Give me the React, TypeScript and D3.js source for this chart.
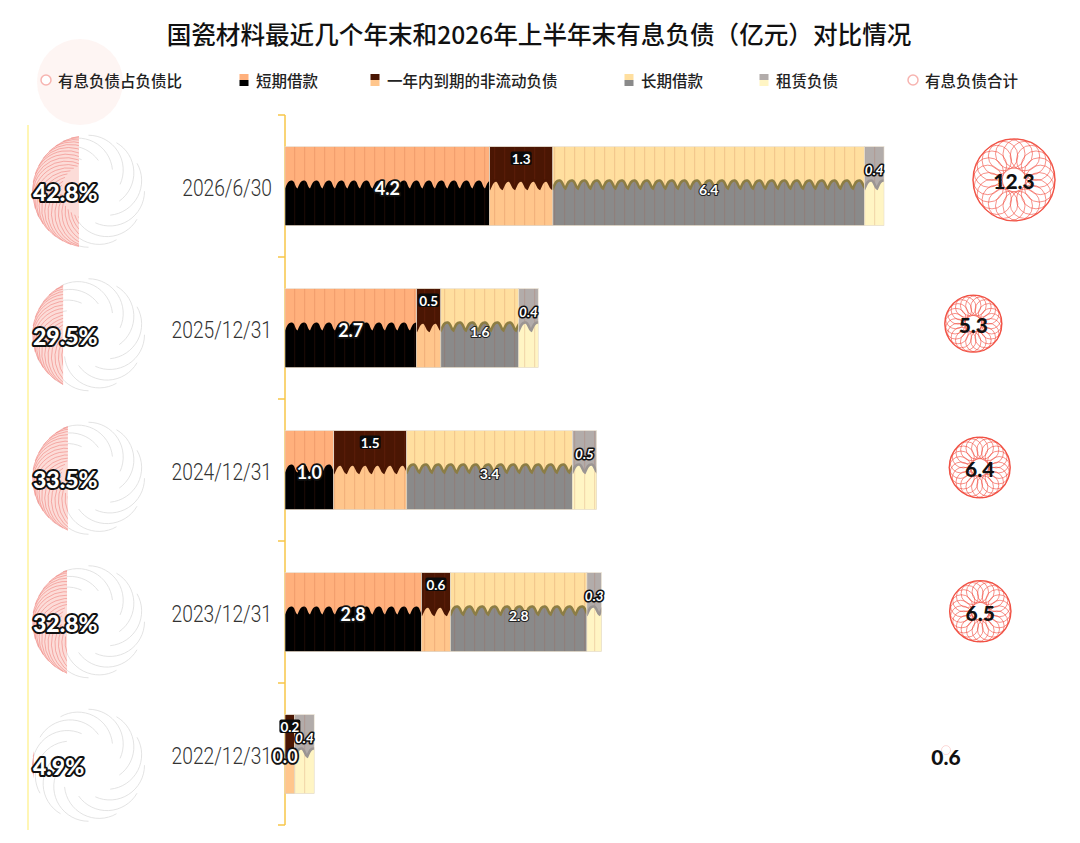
import * as d3 from 'd3'

const categories = ['2026/6/30', '2025/12/31', '2024/12/31', '2023/12/31', '2022/12/31']
const shortTermLoans = [4.2, 2.7, 1.0, 2.8, 0.0]
const currentPortion = [1.3, 0.5, 1.5, 0.6, 0.2]
const longTermLoans: (number | null)[] = [6.4, 1.6, 3.4, 2.8, null]
const leaseLiabilities = [0.4, 0.4, 0.5, 0.3, 0.4]
const totalDebt = [12.3, 5.3, 6.4, 6.5, 0.6]
const debtRatio = [42.8, 29.5, 33.5, 32.8, 4.9]

const title = '国瓷材料最近几个年末和2026年上半年末有息负债（亿元）对比情况'

type LabelKind = 'outline' | 'box' | 'thin' | 'italic'

const series: {
  name: string
  values: (number | null)[]
  top: string
  bottom: string
  wave: string
  label: LabelKind
}[] = [
  { name: '短期借款', values: shortTermLoans, top: '#ffb07c', bottom: '#000000', wave: '#000000', label: 'outline' },
  { name: '一年内到期的非流动负债', values: currentPortion, top: '#4a1603', bottom: '#ffc68c', wave: '#4a1603', label: 'box' },
  { name: '长期借款', values: longTermLoans, top: '#ffdf9f', bottom: '#8a8a8a', wave: '#8c7d44', label: 'thin' },
  { name: '租赁负债', values: leaseLiabilities, top: '#b2acaa', bottom: '#fff5c4', wave: '#9b9593', label: 'italic' },
]

const W = 1080
const H = 843
const LABEL_FONT = 'Lato, "DejaVu Sans", sans-serif'
const CJK_FONT = '"Noto Sans CJK SC", "Noto Sans", sans-serif'

// wave boundary between the two halves of every bar segment
function waveLine(x0: number, x1: number, mid: number) {
  const period = 12.5
  const p = d3.path()
  let a = x0 - period
  p.moveTo(a, mid + 2.5)
  while (a < x1 + period) {
    p.bezierCurveTo(a + 2, mid - 2, a + 3, mid - 6, a + 7, mid - 5.5)
    p.bezierCurveTo(a + 10, mid - 5, a + 10, mid + 1, a + period, mid + 2.5)
    a += period
  }
  return { d: p.toString(), end: a }
}

function swirl(cx: number, cy: number, R: number, n: number, ratio: number, sweep: number) {
  const rr = R * ratio
  const out: string[] = []
  for (let i = 0; i < n; i++) {
    const phi = (i / n) * Math.PI * 2
    const ox = cx + (R - rr) * Math.cos(phi)
    const oy = cy + (R - rr) * Math.sin(phi)
    const p = d3.path()
    p.arc(ox, oy, rr, phi, phi + sweep)
    out.push(p.toString())
  }
  return out
}

function spiro(cx: number, cy: number, R: number) {
  const n = 22
  const r = R * 0.36
  return d3.range(n).map((i) => {
    const phi = (i / n) * Math.PI * 2
    return { cx: cx + (R - r) * Math.cos(phi), cy: cy + (R - r) * Math.sin(phi), r }
  })
}

export default function App() {
  const y = d3.scaleBand<string>().domain(categories).range([115, 825]).paddingInner(0.444).paddingOuter(0.222)
  const x = d3.scaleLinear().domain([0, 12.3]).range([285, 884])

  const yLeft = d3.scaleBand<string>().domain(categories).range([119.5, 837])
  const xLeft = d3.scaleLinear().domain([0, 100]).range([28, 147])

  const yRight = d3.scaleBand<string>().domain(categories).range([108, 827])
  const xRight = d3.scaleLinear().domain([0.6, 12.3]).range([946, 1014])
  const size = d3.scaleLinear().domain([0.6, 5.3, 12.3]).range([9, 57, 82])

  const legendItems = [
    { name: '有息负债占负债比', kind: 'circle', x: 46 },
    { name: series[0].name, kind: 'rect', x: 244, s: series[0] },
    { name: series[1].name, kind: 'rect', x: 375, s: series[1] },
    { name: series[2].name, kind: 'rect', x: 629, s: series[2] },
    { name: series[3].name, kind: 'rect', x: 764, s: series[3] },
    { name: '有息负债合计', kind: 'circle', x: 913 },
  ]

  return (
    <svg
      width={W}
      height={H}
      viewBox={`0 0 ${W} ${H}`}
      style={{ position: 'absolute', left: 0, top: 0, background: '#ffffff' }}
    >
      <defs>
        <pattern id="stripes" width="10" height="10" patternUnits="userSpaceOnUse">
          <rect x="4" y="0" width="1.2" height="10" fill="rgba(170,60,30,0.14)" />
        </pattern>
      </defs>

      <text x={539} y={44} textAnchor="middle" fontSize={24.6} fontWeight={500} fill="#111" fontFamily={CJK_FONT}>
        {title}
      </text>

      {/* legend */}
      <circle cx={80} cy={82} r={43} fill="#f36b5b" opacity={0.07} />
      {legendItems.map((item) => (
        <g key={item.name}>
          {item.kind === 'circle' ? (
            <circle cx={item.x} cy={80} r={5} fill="#fff" stroke="#f7b4b0" strokeWidth={1.5} />
          ) : (
            <g>
              <rect x={item.x - 4.5} y={74} width={9} height={6} fill={item.s!.top} />
              <rect x={item.x - 4.5} y={80} width={9} height={6} fill={item.s!.bottom} />
            </g>
          )}
          <text
            x={item.x + 12}
            y={80}
            dominantBaseline="central"
            fontSize={15.5}
            fontWeight={500}
            fill="#222"
            fontFamily={CJK_FONT}
          >
            {item.name}
          </text>
        </g>
      ))}

      {/* left ratio circles */}
      <line x1={28} x2={28} y1={125} y2={830} stroke="#fff39c" strokeWidth={1.5} />
      {categories.map((c, i) => {
        const cy = yLeft(c)! + yLeft.bandwidth() / 2
        const cx = 88.5
        const R = 56
        const clipX = xLeft(debtRatio[i])
        return (
          <g key={c}>
            <clipPath id={`ratio-${i}`}>
              <rect x={0} y={cy - R - 2} width={clipX} height={2 * R + 4} />
            </clipPath>
            {swirl(cx, cy, R, 12, 0.62, 2.0).map((d, k) => (
              <path key={k} d={d} fill="none" stroke="#dcdcdc" strokeWidth={0.8} />
            ))}
            <g clipPath={`url(#ratio-${i})`}>
              <circle cx={cx} cy={cy} r={R} fill="#fcdcd8" />
              {swirl(cx, cy, R, 40, 0.6, 2.2).map((d, k) => (
                <path key={k} d={d} fill="none" stroke="#f08580" strokeWidth={0.6} />
              ))}
            </g>
            <text
              x={33}
              y={cy + 1}
              dominantBaseline="central"
              fontSize={23}
              fontWeight={900}
              fill="#fff"
              stroke="#111"
              strokeWidth={4}
              paintOrder="stroke"
              strokeLinejoin="round"
              fontFamily={LABEL_FONT}
            >
              {debtRatio[i].toFixed(1)}%
            </text>
          </g>
        )
      })}

      {/* category axis */}
      <line x1={285} x2={285} y1={115} y2={825} stroke="#f7c648" strokeWidth={1.5} />
      {d3.range(categories.length + 1).map((k) => {
        const ty = 115 + y.step() * k
        return <line key={k} x1={278} x2={285} y1={ty} y2={ty} stroke="#f7c648" strokeWidth={1.5} />
      })}
      {categories.map((c) => (
        <g key={c} transform={`translate(272,${y(c)! + y.bandwidth() / 2 + 2}) scale(0.8,1)`}>
          <text
            x={0}
            y={0}
            textAnchor="end"
            dominantBaseline="central"
            fontSize={24}
            fontWeight={300}
            fill="#333"
            fontFamily='Roboto, "DejaVu Sans Condensed", sans-serif'
          >
            {c}
          </text>
        </g>
      ))}

      {/* stacked bars */}
      {categories.map((c, i) => {
        const by = y(c)!
        const bh = y.bandwidth()
        const mid = by + bh / 2
        let acc = 0
        return (
          <g key={c}>
            {series.map((s, j) => {
              const v = s.values[i]
              const start = acc
              acc += v ?? 0
              if (v == null) return null
              const x0 = x(start)
              const x1 = x(start + v)
              const w = x1 - x0
              if (w <= 0) return null
              const wave = waveLine(x0, x1, mid)
              const fillPath = `${wave.d}L${wave.end},${by + bh + 2}L${x0 - 13},${by + bh + 2}Z`
              return (
                <g key={s.name}>
                  <clipPath id={`seg-${i}-${j}`}>
                    <rect x={x0} y={by} width={w} height={bh} />
                  </clipPath>
                  <g clipPath={`url(#seg-${i}-${j})`}>
                    <rect x={x0} y={by} width={w} height={bh} fill={s.top} />
                    <path d={fillPath} fill={s.bottom} />
                    <rect x={x0} y={by} width={w} height={bh} fill="url(#stripes)" />
                    {j > 0 && <path d={wave.d} fill="none" stroke={s.wave} strokeWidth={2.6} />}
                  </g>
                  <rect x={x0} y={by} width={w} height={bh} fill="none" stroke="#e6dccb" strokeWidth={0.6} />
                </g>
              )
            })}
          </g>
        )
      })}

      {/* bar labels */}
      {categories.map((c, i) => {
        const by = y(c)!
        const bh = y.bandwidth()
        const mid = by + bh / 2
        let acc = 0
        return (
          <g key={c}>
            {series.map((s) => {
              const v = s.values[i]
              const start = acc
              acc += v ?? 0
              if (v == null) return null
              const cx = (x(start) + x(start + v)) / 2
              const txt = v.toFixed(1)
              if (s.label === 'outline') {
                return (
                  <text
                    key={s.name}
                    x={cx}
                    y={mid + 2}
                    textAnchor="middle"
                    dominantBaseline="central"
                    fontSize={18}
                    fontWeight={700}
                    fill="#fff"
                    stroke="#111"
                    strokeWidth={3.6}
                    paintOrder="stroke"
                    strokeLinejoin="round"
                    fontFamily={LABEL_FONT}
                  >
                    {txt}
                  </text>
                )
              }
              if (s.label === 'box') {
                return (
                  <g key={s.name}>
                    <rect x={cx - 10.5} y={by + 5} width={21} height={13.5} rx={2} fill="#0b0b0b" />
                    <text
                      x={cx}
                      y={by + 12}
                      textAnchor="middle"
                      dominantBaseline="central"
                      fontSize={13.5}
                      fontWeight={700}
                      fill="#fff"
                      fontFamily={LABEL_FONT}
                    >
                      {txt}
                    </text>
                  </g>
                )
              }
              if (s.label === 'thin') {
                return (
                  <text
                    key={s.name}
                    x={cx}
                    y={mid + 3}
                    textAnchor="middle"
                    dominantBaseline="central"
                    fontSize={14}
                    fontWeight={700}
                    fill="#fff"
                    stroke="#222"
                    strokeWidth={2.2}
                    paintOrder="stroke"
                    strokeLinejoin="round"
                    fontFamily={LABEL_FONT}
                  >
                    {txt}
                  </text>
                )
              }
              return (
                <text
                  key={s.name}
                  x={cx}
                  y={by + 23}
                  textAnchor="middle"
                  dominantBaseline="central"
                  fontSize={13.5}
                  fontWeight={700}
                  fontStyle="italic"
                  fill="#fff"
                  stroke="#111"
                  strokeWidth={3.2}
                  paintOrder="stroke"
                  strokeLinejoin="round"
                  fontFamily={LABEL_FONT}
                >
                  {txt}
                </text>
              )
            })}
          </g>
        )
      })}

      {/* totals */}
      {categories.map((c, i) => {
        const cy = yRight(c)! + yRight.bandwidth() / 2
        const cx = xRight(totalDebt[i])
        const R = size(totalDebt[i]) / 2
        const small = totalDebt[i] < 1
        return (
          <g key={c}>
            <circle
              cx={cx}
              cy={small ? cy - 5 : cy}
              r={R}
              fill="none"
              stroke="#f0483a"
              strokeWidth={small ? 0.5 : 1.3}
              opacity={small ? 0.4 : 0.9}
            />
            {!small &&
              spiro(cx, cy, R).map((p, k) => (
                <circle key={k} cx={p.cx} cy={p.cy} r={p.r} fill="none" stroke="#f2483a" strokeWidth={0.8} opacity={0.75} />
              ))}
            <text
              x={cx}
              y={cy + 1}
              textAnchor="middle"
              dominantBaseline="central"
              fontSize={21}
              fontWeight={900}
              fill="#111"
              fontFamily={LABEL_FONT}
            >
              {totalDebt[i].toFixed(1)}
            </text>
          </g>
        )
      })}
    </svg>
  )
}
